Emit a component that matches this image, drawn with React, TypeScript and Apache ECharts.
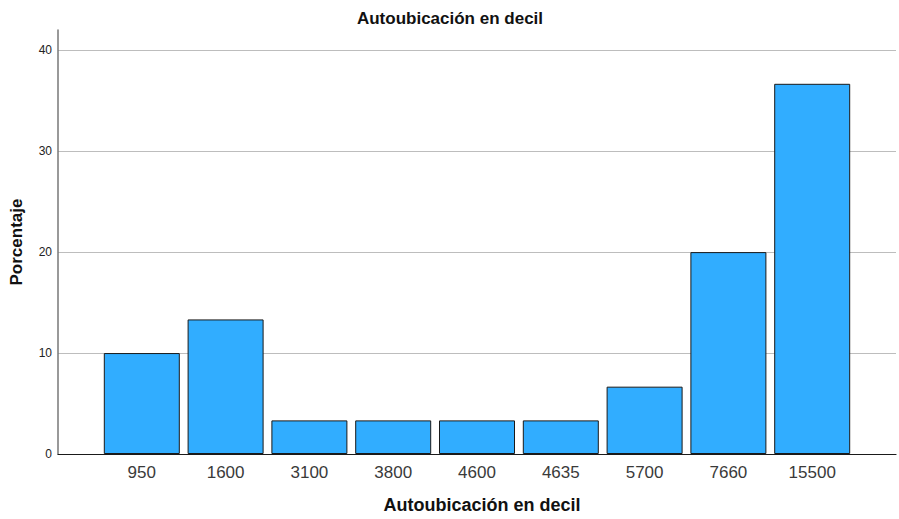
import React, { useEffect, useRef } from "react";
import * as echarts from "echarts";

const chartTitle = "Autoubicación en decil";
const xTitle = "Autoubicación en decil";
const yTitle = "Porcentaje";
const categories = ["", "950", "1600", "3100", "3800", "4600", "4635", "5700", "7660", "15500", ""];
const percentages = [null, 10.0, 13.33, 3.33, 3.33, 3.33, 3.33, 6.67, 20.0, 36.67, null];

const FONT = "Arial, 'Liberation Sans', sans-serif";

export default function App() {
  const ref = useRef<HTMLDivElement>(null);
  useEffect(() => {
    if (!ref.current) return;
    const chart = echarts.init(ref.current, null, { renderer: "svg" });
    chart.setOption({
      animation: false,
      backgroundColor: "#ffffff",
      title: {
        text: chartTitle,
        left: 445,
        top: 5,
        textAlign: "center",
        textStyle: { fontFamily: FONT, fontSize: 17, fontWeight: "bold", color: "#111" },
      },
      grid: { left: 55, right: 3, top: 30, bottom: 61, containLabel: false },
      xAxis: {
        type: "category",
        data: categories,
        boundaryGap: false,
        name: xTitle,
        nameLocation: "middle",
        nameGap: 42,
        nameTextStyle: { fontFamily: FONT, fontSize: 18, fontWeight: "bold", color: "#111", padding: [0, 0, 0, 10] },
        axisLine: { lineStyle: { color: "#1a1a1a", width: 1.2 } },
        axisTick: { show: false },
        axisLabel: { fontFamily: FONT, fontSize: 17, color: "#3a3a3a", margin: 10, interval: 0 },
        splitLine: { show: false },
      },
      yAxis: {
        type: "value",
        min: 0,
        max: 42,
        interval: 10,
        name: yTitle,
        nameLocation: "middle",
        nameGap: 33,
        nameTextStyle: { fontFamily: FONT, fontSize: 17, fontWeight: "bold", color: "#111" },
        axisLine: { show: true, lineStyle: { color: "#777", width: 1.5 } },
        axisTick: { show: false },
        axisLabel: { fontFamily: FONT, fontSize: 12, color: "#222", margin: 6, showMaxLabel: false },
        splitLine: { show: true, showMinLine: false, showMaxLine: false, lineStyle: { color: "#bdbdbd", width: 1 } },
      },
      series: [
        {
          type: "bar",
          data: percentages,
          barWidth: 76,
          itemStyle: { color: "#31adff", borderColor: "#1a1a1a", borderWidth: 1 },
        },
      ],
    });
    return () => chart.dispose();
  }, []);
  return <div ref={ref} style={{ width: 899, height: 519, position: "absolute", left: 0, top: 0 }} />;
}
